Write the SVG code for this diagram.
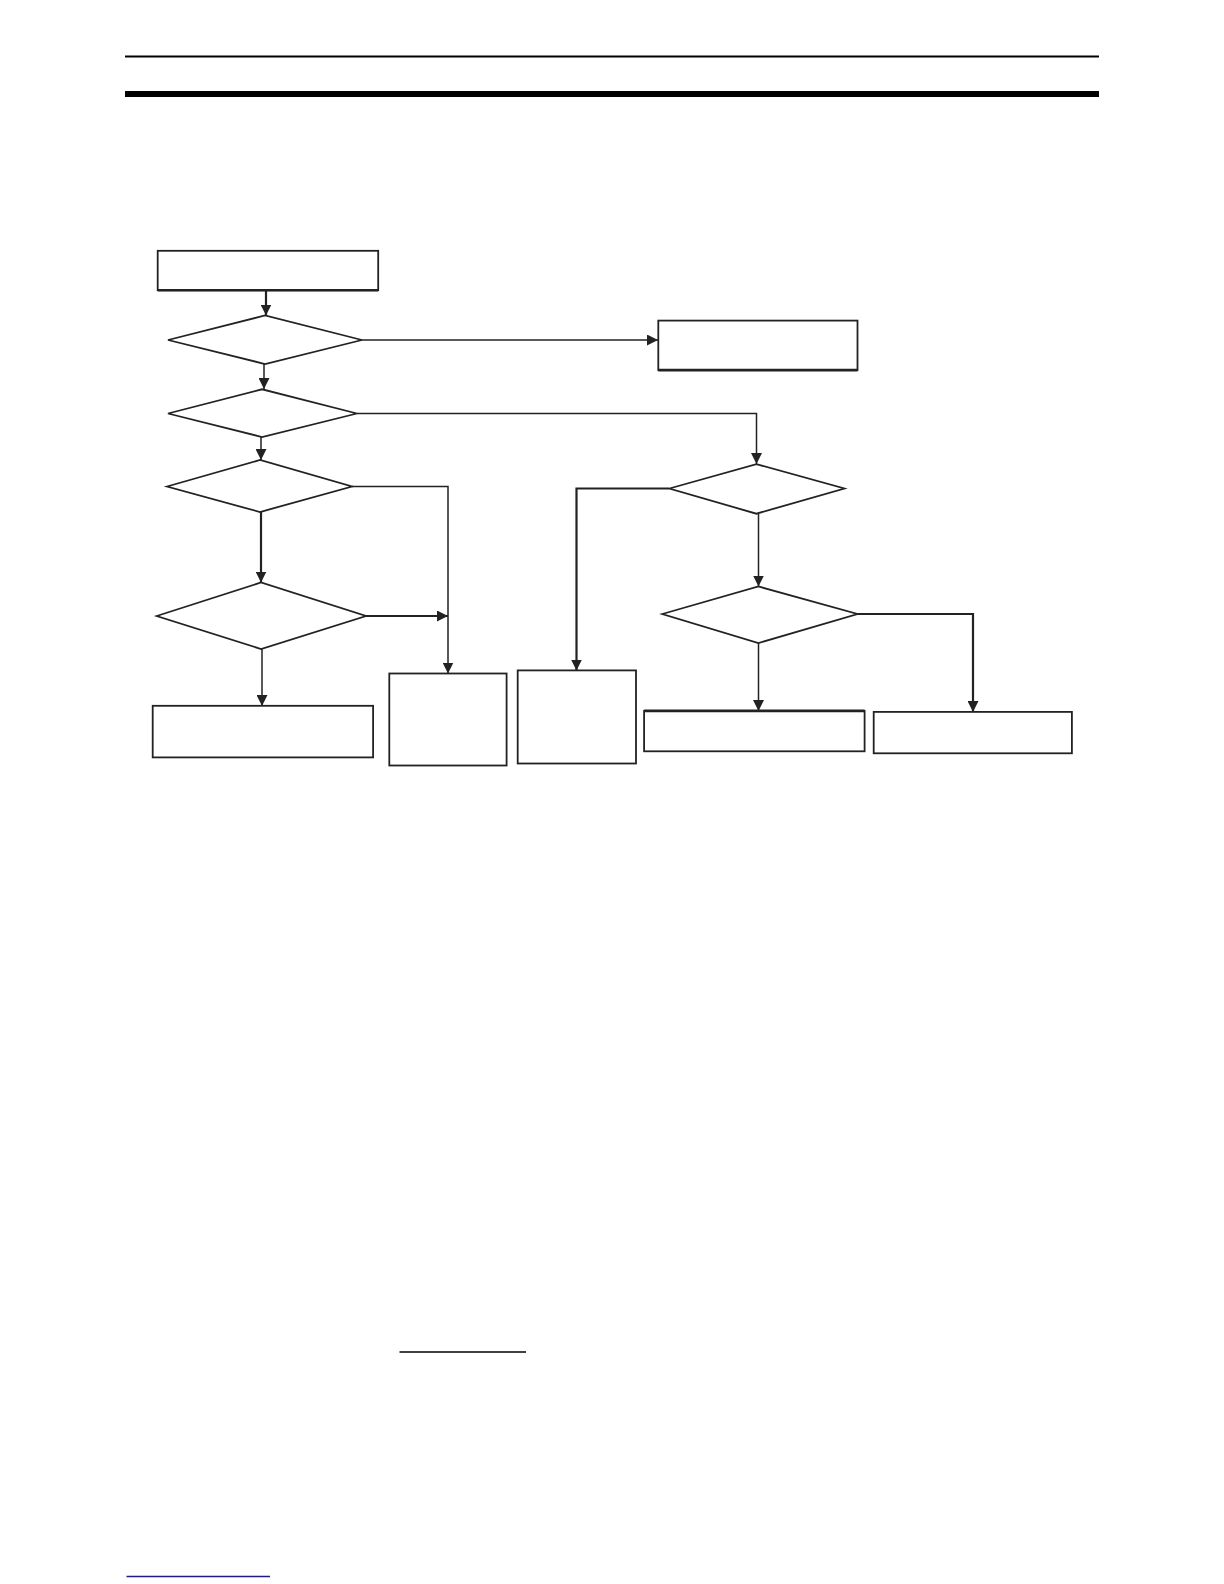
<svg xmlns="http://www.w3.org/2000/svg" width="1224" height="1584" viewBox="0 0 1224 1584">
<style>
.box{fill:#fff;stroke:#222;stroke-width:1.8}
.dia{fill:#fff;stroke:#222;stroke-width:1.8}
.c{fill:none;stroke:#222;stroke-width:1.5}
.ct{fill:none;stroke:#222;stroke-width:2.2}
.edge{stroke:#222;stroke-width:2.6}
</style>
<defs>
<marker id="ah" viewBox="0 0 10 10" refX="10" refY="5" markerWidth="11" markerHeight="11" markerUnits="userSpaceOnUse" orient="auto">
<path d="M0,0 L10,5 L0,10 z" fill="#222"/>
</marker>
</defs>
<rect width="1224" height="1584" fill="#fff"/>
<line x1="125" y1="56.5" x2="1099" y2="56.5" stroke="#000" stroke-width="2"/>
<rect x="125" y="91" width="974" height="6" fill="#000"/>

<g id="connectors">
<path class="ct" d="M266,291 V315.5" marker-end="url(#ah)"/>
<path class="c" d="M362,340 H658" marker-end="url(#ah)"/>
<path class="c" d="M264,364 V389" marker-end="url(#ah)"/>
<path class="c" d="M357,413.5 H756.5 V464" marker-end="url(#ah)"/>
<path class="c" d="M261,437 V460" marker-end="url(#ah)"/>
<path class="c" d="M352,486.5 H448 V673.5" marker-end="url(#ah)"/>
<path class="ct" d="M261,512 V582.5" marker-end="url(#ah)"/>
<path class="ct" d="M366,616 H448" marker-end="url(#ah)"/>
<path class="c" d="M262,649 V706" marker-end="url(#ah)"/>
<path class="ct" d="M669,488.5 H576.5 V670.5" marker-end="url(#ah)"/>
<path class="c" d="M758.5,514 V586.5" marker-end="url(#ah)"/>
<path class="ct" d="M857.5,614 H973 V712" marker-end="url(#ah)"/>
<path class="c" d="M758.5,643 V711" marker-end="url(#ah)"/>
</g>

<g id="n1"><rect class="box" x="157.7" y="250.8" width="220.5" height="39.4"/><line class="edge" x1="157.7" y1="290.2" x2="378.2" y2="290.2"/></g>
<g id="d1"><polygon class="dia" points="168,340 265,315.5 362,340 265,364"/></g>
<g id="n2"><rect class="box" x="658.3" y="320.6" width="199.2" height="49.5"/><line class="edge" x1="658.3" y1="370.1" x2="857.5" y2="370.1"/></g>
<g id="d2"><polygon class="dia" points="168,413.5 262,389.3 357,413.5 262,437"/></g>
<g id="d3"><polygon class="dia" points="167,486.5 260,460 352,486.5 260,512"/></g>
<g id="d4"><polygon class="dia" points="156.7,616 261,582.5 366,616 261,649"/></g>
<g id="n4"><rect class="box" x="152.7" y="705.8" width="220.4" height="51.6" stroke-width="2.2"/></g>
<g id="n5"><rect class="box" x="389.3" y="673.5" width="117.3" height="92"/></g>
<g id="n6"><rect class="box" x="517.7" y="670.4" width="118.3" height="93.1"/></g>
<g id="d5"><polygon class="dia" points="669.4,488.5 756.4,464.1 844.4,488.5 756.4,513.7"/></g>
<g id="d6"><polygon class="dia" points="662.3,614 758.4,586.5 857.5,614 758.4,643"/></g>
<g id="n7"><rect class="box" x="644.1" y="710.9" width="220.5" height="40.4"/><line class="edge" x1="644.1" y1="710.9" x2="864.6" y2="710.9"/></g>
<g id="n8"><rect class="box" x="873.7" y="711.9" width="198.2" height="41.4"/></g>

<line x1="399.5" y1="1352" x2="526" y2="1352" stroke="#000" stroke-width="1.6"/>
<line x1="126.5" y1="1576.5" x2="270" y2="1576.5" stroke="#1c1c8a" stroke-width="1.6"/>
</svg>
